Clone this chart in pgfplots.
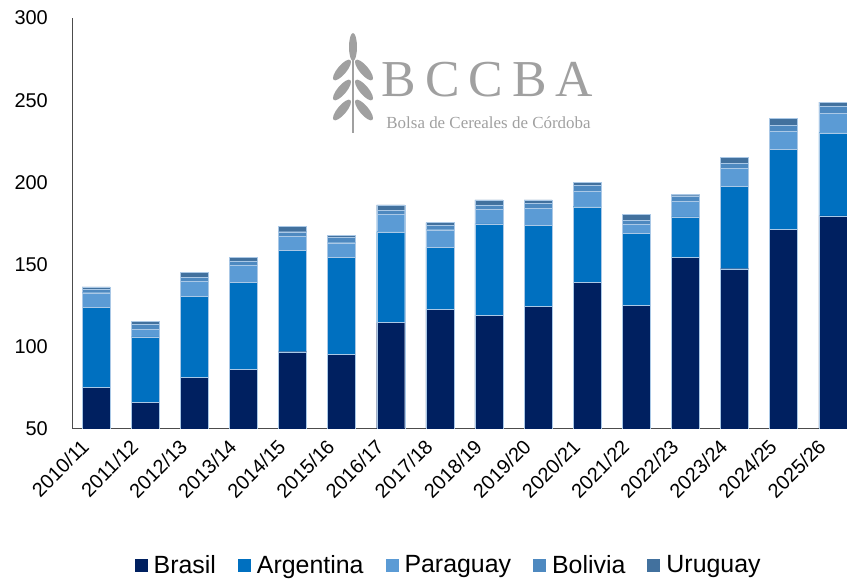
\documentclass[border=0pt]{standalone}
\usepackage{pgfplots}
\pgfplotsset{compat=1.18}
\usepackage{pgfplotstable}
\usepackage{fontspec}
\setmainfont{Liberation Sans}
\newfontfamily\logofont{Liberation Serif}
\definecolor{cBra}{RGB}{0,32,96}
\definecolor{cArg}{RGB}{0,112,192}
\definecolor{cPar}{RGB}{91,155,213}
\definecolor{cBol}{RGB}{78,137,192}
\definecolor{cUru}{RGB}{66,113,158}
\definecolor{cEdge}{RGB}{170,200,230}
\definecolor{cLogo}{RGB}{160,160,160}
\pgfplotstableread{
x bra arg par bol uru
0 75.4 48.4 9.1 2.2 1.3
1 66.2 39.9 4.5 3.1 1.6
2 81.4 49.1 9.5 2.3 2.8
3 86.3 52.7 10.8 2.4 2.4
4 97.0 61.5 8.9 2.6 3.1
5 95.4 58.8 9.1 3.1 1.6
6 114.7 55.3 10.4 2.4 3.5
7 122.8 37.9 10.5 2.7 1.6
8 119.3 55.4 9.1 2.5 3.0
9 124.4 49.3 10.5 3.1 2.0
10 139.2 46.0 9.6 3.5 1.9
11 125.0 43.9 5.4 2.8 3.4
12 154.2 24.9 9.6 3.2 0.9
13 147.5 49.9 11.2 3.0 3.7
14 171.5 48.8 11.0 3.6 4.1
15 179.7 50.5 11.8 4.5 2.4
}\datatable
\begin{document}
\begin{tikzpicture}
\useasboundingbox (0bp,0bp) rectangle (847bp,581bp);
% logo (decoration)
\begin{scope}[x=1bp,y=1bp,shift={(0,581)},yscale=-1]
  \draw[cLogo,line width=2.2bp] (353,133) -- (353,58);
  \fill[cLogo] (353,47) ellipse [x radius=4, y radius=14];
  \foreach \yy in {70,90,110}{
    \fill[cLogo,rotate around={-50:(342,\yy)}] (342,\yy) ellipse [x radius=13, y radius=4.5];
    \fill[cLogo,rotate around={50:(364,\yy)}] (364,\yy) ellipse [x radius=13, y radius=4.5];
  }
\end{scope}
\node[anchor=base,inner sep=0,text=cLogo,font=\logofont\fontsize{52}{56}\selectfont] at (487.5bp,484bp) {B\hspace{9bp}C\hspace{9bp}C\hspace{9bp}B\hspace{9bp}A};
\node[anchor=base,inner sep=0,text=cLogo,font=\logofont\fontsize{17}{20}\selectfont] at (488.5bp,452bp) {Bolsa de Cereales de Córdoba};
\begin{axis}[
  at={(72bp,152bp)}, anchor=south west,
  scale only axis, width=775bp, height=411bp,
  ybar stacked, bar width=28bp,
  ymin=50, ymax=300, ytick={50,100,150,200,250,300},
  xmin=-0.49, xmax=15.29,
  xtick={0,...,15},
  xticklabels={2010/11,2011/12,2012/13,2013/14,2014/15,2015/16,2016/17,2017/18,2018/19,2019/20,2020/21,2021/22,2022/23,2023/24,2024/25,2025/26},
  /pgf/number format/assume math mode=true,
  ticklabel style={font=\fontsize{20}{24}\selectfont},
  x tick label style={xshift=-16bp, yshift=-6bp, rotate=45, anchor=north east, inner sep=2bp},
  y tick label style={inner sep=0pt, xshift=-24bp},
  axis x line*=bottom, axis y line*=left,
  axis line style={-, black!70, line width=1bp},
  major tick length=0pt,
  enlargelimits=false,
  legend style={at={(0.486,-0.331)}, anchor=center, draw=none, fill=none,
    legend columns=5, font=\fontsize{25}{29}\selectfont,
    /tikz/every odd column/.append style={column sep=4bp},
    /tikz/every even column/.append style={column sep=20bp}},
  legend image code/.code={\fill[#1,draw=none] (0bp,-7bp) rectangle (13bp,6bp);},
]
\addplot[fill=cBra, draw=cEdge, line width=0.4bp] table[x=x,y=bra]{\datatable};
\addplot[fill=cArg, draw=cEdge, line width=0.4bp] table[x=x,y=arg]{\datatable};
\addplot[fill=cPar, draw=cEdge, line width=0.4bp] table[x=x,y=par]{\datatable};
\addplot[fill=cBol, draw=cEdge, line width=0.4bp] table[x=x,y=bol]{\datatable};
\addplot[fill=cUru, draw=cEdge, line width=0.4bp] table[x=x,y=uru]{\datatable};
\legend{Brasil,Argentina,Paraguay,Bolivia,Uruguay}
\end{axis}
\end{tikzpicture}
\end{document}
